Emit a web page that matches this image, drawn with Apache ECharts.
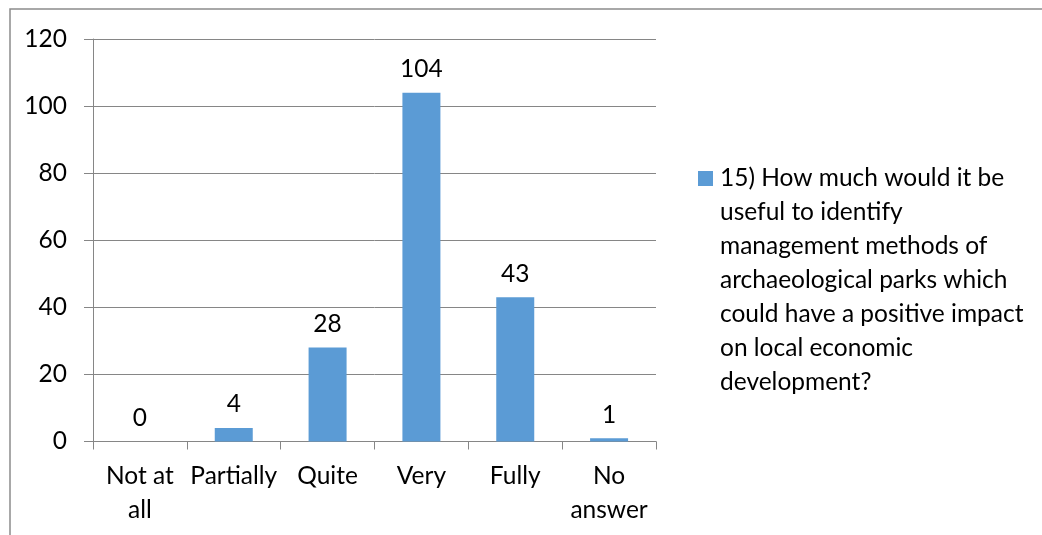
<!DOCTYPE html>
<html>
<head>
<meta charset="utf-8">
<script src="https://cdn.jsdelivr.net/npm/echarts@6/dist/echarts.min.js"></script>
<style>
  html, body { margin: 0; padding: 0; background: #fff; }
  #chart { width: 1042px; height: 535px; }
</style>
</head>
<body>
<div id="chart"></div>
<script>
const categories = ['Not at\nall', 'Partially', 'Quite', 'Very', 'Fully', 'No\nanswer']
const answers = [0, 4, 28, 104, 43, 1]
const seriesName = '15) How much would it be useful to identify management methods of archaeological parks which could have a positive impact on local economic development?'
const legendLines = [
  '15) How much would it be',
  'useful to identify',
  'management methods of',
  'archaeological parks which',
  'could have a positive impact',
  'on local economic',
  'development?'
]

const font = 'Lato, "Open Sans", sans-serif'
const grey = '#868686'
const lineH = 34
const fontSize = 24.5

// legend icon: square next to the first line; the empty segments stretch its box to the text height
const blockH = legendLines.length * lineH
const legendIcon = 'path://M0,0L17,0M0,10L15,10L15,25L0,25ZM0,' + blockH + 'L17,' + blockH

const chart = echarts.init(document.getElementById('chart'))
const option = {
  animation: false,
  backgroundColor: '#fff',
  grid: { left: 93, right: 386, top: 39, bottom: 93.5 },
  graphic: [
    {
      type: 'polyline',
      shape: { points: [[10, 535], [10, 9], [1042, 9]] },
      style: { stroke: '#8c8c8c', lineWidth: 1.5, fill: null }
    }
  ],
  legend: {
    left: 698,
    top: 161,
    padding: 0,
    icon: legendIcon,
    itemWidth: 17,
    itemHeight: blockH,
    itemGap: 0,
    formatter: () => legendLines.join('\n'),
    textStyle: {
      fontFamily: font,
      fontSize: fontSize,
      color: '#000',
      lineHeight: lineH
    }
  },
  xAxis: {
    type: 'category',
    data: categories,
    boundaryGap: true,
    axisLine: { show: true, lineStyle: { color: grey, width: 1 } },
    axisTick: { show: true, length: 8, lineStyle: { color: grey } },
    axisLabel: {
      margin: 18,
      fontFamily: font,
      fontSize: fontSize,
      color: '#000',
      lineHeight: lineH,
      interval: 0
    }
  },
  yAxis: {
    type: 'value',
    min: 0,
    max: 120,
    interval: 20,
    axisLine: { show: true, lineStyle: { color: grey, width: 1 } },
    axisTick: { show: true, length: 9, lineStyle: { color: grey } },
    splitLine: { show: true, lineStyle: { color: grey, width: 1 } },
    axisLabel: {
      margin: 26,
      fontFamily: font,
      fontSize: fontSize,
      color: '#000'
    }
  },
  series: [
    {
      name: seriesName,
      type: 'bar',
      data: answers,
      barWidth: 38,
      itemStyle: { color: '#5B9BD5' },
      label: {
        show: true,
        position: 'top',
        distance: 11,
        fontFamily: font,
        fontSize: fontSize,
        color: '#000'
      }
    }
  ]
}
chart.setOption(option)
</script>
</body>
</html>
